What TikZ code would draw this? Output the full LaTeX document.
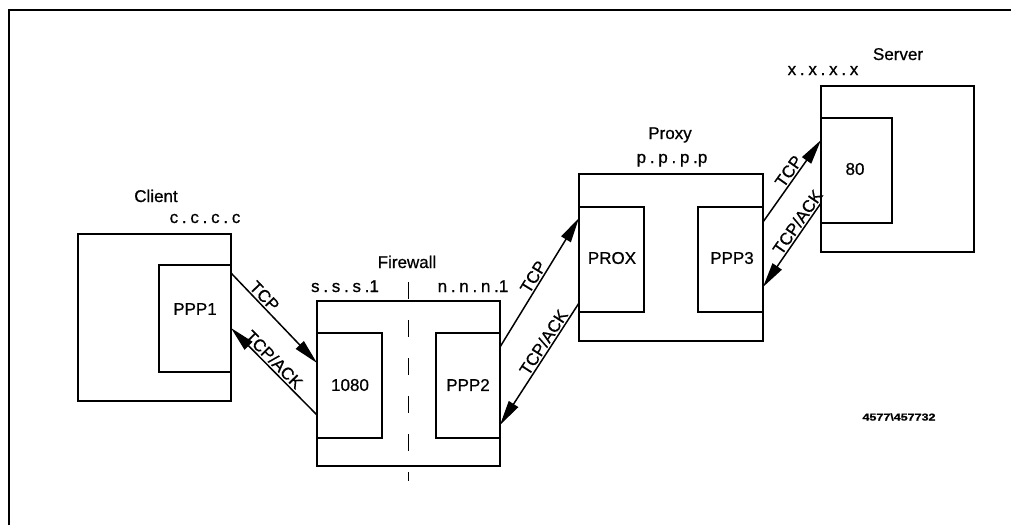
\documentclass[tikz,border=0pt]{standalone}
\usepackage{fontspec}
\setmainfont{Liberation Sans}[FakeBold=0.7]
\usetikzlibrary{arrows.meta}
\newcommand\ipdot{\hspace{0.22em}.\hspace{0.22em}}
\begin{document}
\begin{tikzpicture}[x=1pt,y=-1pt,
  box/.style={draw,line width=1.8pt,anchor=north west,inner sep=0pt,outer sep=0pt},
  lbl/.style={font=\fontsize{17}{20}\selectfont,inner sep=0pt},
  ttl/.style={font=\fontsize{17}{20}\selectfont,inner sep=0pt,anchor=base},
  conn/.style={line width=1.5pt,-{Triangle[length=25pt,width=11pt]}},
  tl/.style={font=\fontsize{17}{20}\selectfont,sloped,above,inner sep=1.5pt}]
\useasboundingbox (0,0) rectangle (1011,525);
% frame
\draw[line width=1.8pt] (9,525) -- (9,10) -- (1011,10);

% Client
\node[box,minimum width=153pt,minimum height=167pt] (client) at (78,234) {};
\node[box,minimum width=72pt,minimum height=107pt] (ppp1) at (159,265) {};
\node[lbl] (ppp1t) at (195,309) {PPP1};
\node[ttl] (clientt) at (156,202) {Client};
\node[ttl] (clientip) at (205,223) {c\ipdot c\ipdot c\ipdot c};

% Firewall
\node[box,minimum width=183pt,minimum height=165pt] (fw) at (317,301) {};
\node[box,minimum width=65pt,minimum height=105pt] (b1080) at (317,333) {};
\node[box,minimum width=64pt,minimum height=105pt] (ppp2) at (436,333) {};
\node[lbl] (b1080t) at (350,385) {1080};
\node[lbl] (ppp2t) at (468,385) {PPP2};
\node[ttl] (fwt) at (407,268) {Firewall};
\node[ttl] (fwip1) at (345,292) {s\ipdot s\ipdot s\hspace{0.22em}.1};
\node[ttl] (fwip2) at (473,292) {n\ipdot n\ipdot n\hspace{0.22em}.1};
\draw[line width=0.9pt,dash pattern=on 17pt off 21pt] (408,282) -- (408,481);

% Proxy
\node[box,minimum width=184pt,minimum height=167pt] (proxy) at (579,174) {};
\node[box,minimum width=65pt,minimum height=105pt] (prox) at (579,207) {};
\node[box,minimum width=65pt,minimum height=105pt] (ppp3) at (698,207) {};
\node[lbl] (proxt) at (612,258) {PROX};
\node[lbl] (ppp3t) at (732,258) {PPP3};
\node[ttl] (proxyt) at (670,139) {Proxy};
\node[ttl] (proxyip) at (672,163) {p\ipdot p\ipdot p\hspace{0.22em}.p};

% Server
\node[box,minimum width=153pt,minimum height=166pt] (server) at (821,86) {};
\node[box,minimum width=71pt,minimum height=105pt] (s80) at (821,118) {};
\node[lbl] (s80t) at (855,169) {80};
\node[ttl] (servert) at (898,60) {Server};
\node[ttl] (serverip) at (823,75) {x\ipdot x\ipdot x\ipdot x};

% connectors
\draw[conn] ([yshift=-8pt]ppp1.north east) -- node[tl,pos=0.32] {TCP} ([yshift=-30pt]b1080.north west);
\draw[conn] ([yshift=-82pt]b1080.north west) -- node[tl,pos=0.57] {TCP/ACK} ([yshift=-63pt]ppp1.north east);
\draw[conn] ([yshift=-14pt]ppp2.north east) -- node[tl,pos=0.51] {TCP} ([yshift=-11pt]prox.north west);
\draw[conn] ([yshift=-96pt]prox.north west) -- node[tl,pos=0.36] {TCP/ACK} ([yshift=-92pt]ppp2.north east);
\draw[conn] ([yshift=-15pt]ppp3.north east) -- node[tl,pos=0.56] {TCP} ([yshift=-22pt]s80.north west);
\draw[conn] ([yshift=-85pt]s80.north west) -- node[tl,pos=0.285] {TCP/ACK} ([yshift=-80pt]ppp3.north east);

\node[font=\fontsize{10}{12}\selectfont\bfseries,inner sep=0pt] (figid) at (899,417) {\scalebox{1.25}[1]{4577\textbackslash 457732}};
\end{tikzpicture}
\end{document}
